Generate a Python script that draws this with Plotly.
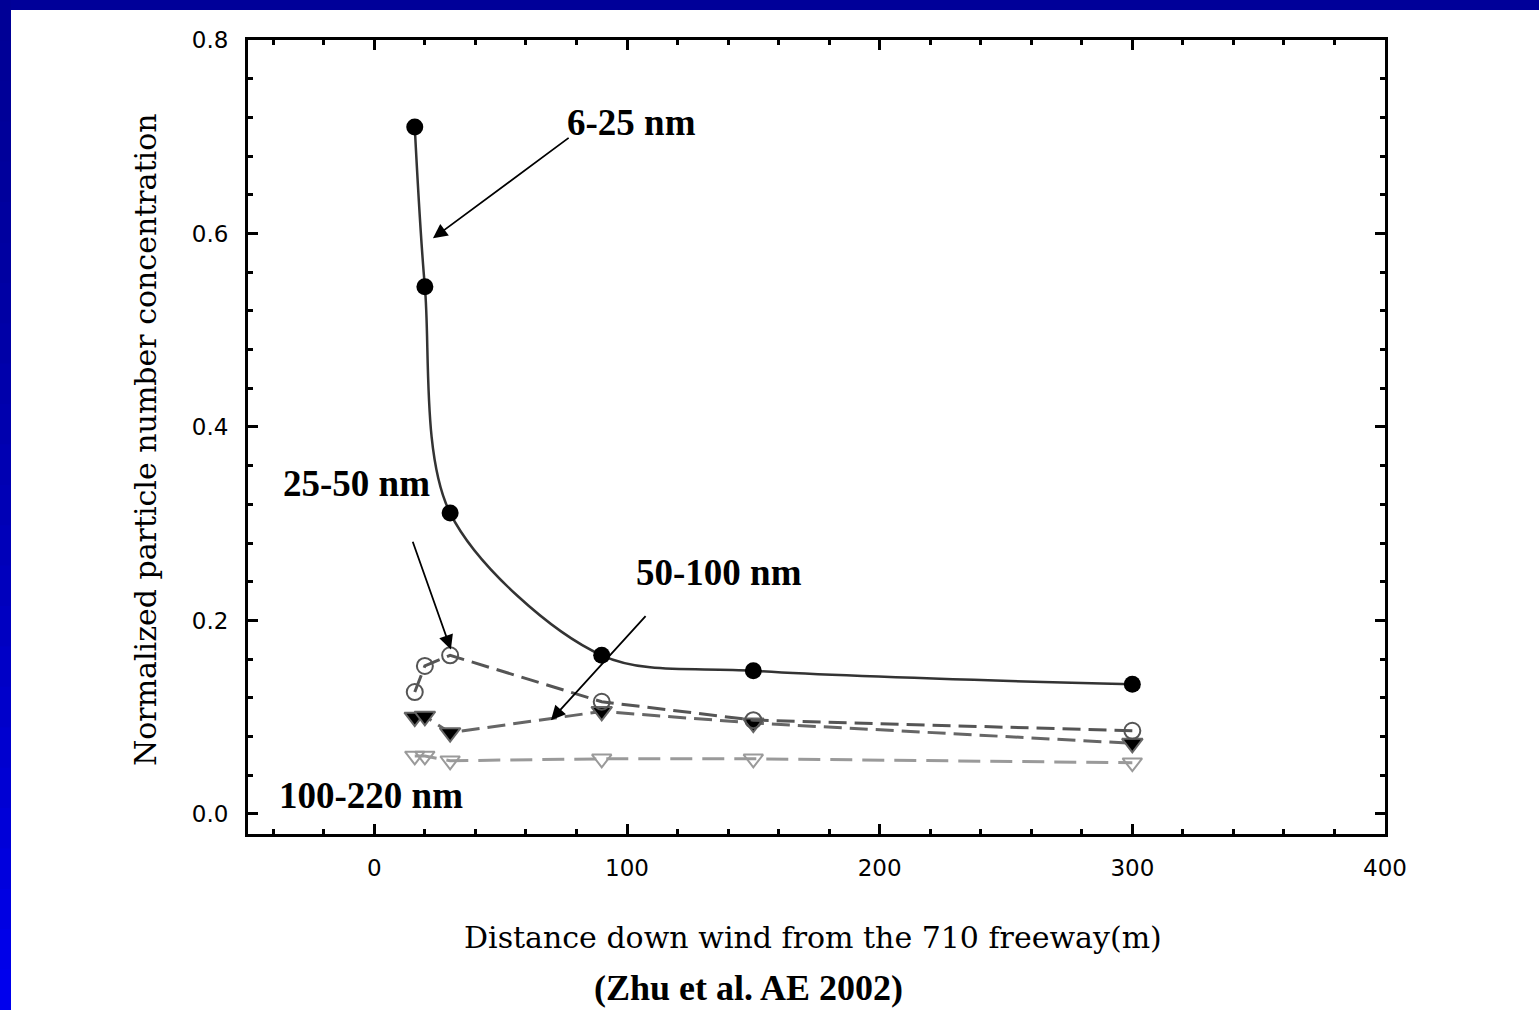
import plotly.graph_objects as go

# ---------------- data ----------------
dist = [16, 20, 30, 90, 150, 300]
nm_6_25 = [0.710, 0.545, 0.311, 0.164, 0.148, 0.134]
nm_25_50 = [0.126, 0.153, 0.164, 0.116, 0.097, 0.086]
nm_50_100 = [0.100, 0.101, 0.084, 0.106, 0.094, 0.073]
nm_100_220 = [0.060, 0.060, 0.055, 0.057, 0.057, 0.053]

x_ticks = [0, 100, 200, 300, 400]
y_ticks = [0.0, 0.2, 0.4, 0.6, 0.8]
y_ticklabels = ["0.0", "0.2", "0.4", "0.6", "0.8"]

W, H = 1539, 1010
L, R, T, B = 248, 154, 40, 176
PW, PH = W - L - R, H - T - B

fig = go.Figure()

fig.add_trace(go.Scatter(
    x=dist, y=nm_100_220, mode="lines+markers", name="100-220 nm",
    line=dict(color="#9a9a9a", width=3, dash="22px,10px"),
    marker=dict(symbol="triangle-down-open", size=17, color="#9a9a9a",
                line=dict(width=2))))
fig.add_trace(go.Scatter(
    x=dist, y=nm_50_100, mode="lines+markers", name="50-100 nm",
    line=dict(color="#666666", width=3, dash="18px,8px"),
    marker=dict(symbol="triangle-down", size=18, color="black",
                line=dict(width=2, color="#666666"))))
fig.add_trace(go.Scatter(
    x=dist, y=nm_25_50, mode="lines+markers", name="25-50 nm",
    line=dict(color="#555555", width=3, dash="18px,8px"),
    marker=dict(symbol="circle-open", size=16, color="#555555",
                line=dict(width=2))))
fig.add_trace(go.Scatter(
    x=dist, y=nm_6_25, mode="lines+markers", name="6-25 nm",
    line=dict(color="#333333", width=2.5, shape="spline", smoothing=0.9),
    marker=dict(symbol="circle", size=17, color="black")))

lab_font = dict(family="Liberation Serif", size=37, color="black")
labels = [
    ("<b>6-25 nm</b>", 101.9, 0.715),
    ("<b>25-50 nm</b>", -7.2, 0.342),
    ("<b>50-100 nm</b>", 136.3, 0.250),
    ("<b>100-220 nm</b>", -1.3, 0.0196),
]
for txt, lx, ly in labels:
    fig.add_annotation(x=lx, y=ly, text=txt, showarrow=False, font=lab_font,
                       xanchor="center", yanchor="middle")

arrows = [
    # head(x,y), tail(x,y)
    (23.2, 0.595, 77.5, 0.700),
    (30.3, 0.170, 15.0, 0.283),
    (69.9, 0.097, 107.9, 0.206),
]
for hx, hy, tx, ty in arrows:
    fig.add_annotation(x=hx, y=hy, ax=tx, ay=ty, axref="x", ayref="y",
                       text="", showarrow=True, arrowhead=2, arrowsize=1.6,
                       arrowwidth=1.8, arrowcolor="black")

title_font = dict(family="DejaVu Serif", size=30, color="black")
fig.add_annotation(xref="paper", yref="paper", x=(813 - L) / PW, y=(H - B - 937) / PH,
                   text="Distance down wind from the 710 freeway(m)",
                   showarrow=False, font=title_font, xanchor="center", yanchor="middle")
fig.add_annotation(xref="paper", yref="paper", x=(145 - L) / PW, y=(H - B - 440) / PH,
                   text="Normalized particle number concentration", textangle=-90,
                   showarrow=False, font=title_font, xanchor="center", yanchor="middle")
fig.add_annotation(xref="paper", yref="paper", x=(748 - L) / PW, y=(H - B - 988) / PH,
                   text="<b>(Zhu et al. AE 2002)</b>", showarrow=False,
                   font=dict(family="Liberation Serif", size=36, color="black"),
                   xanchor="center", yanchor="middle")

# blue slide frame (top strip and left gradient strip)
def px2paper_x(p):
    return (p - L) / PW

def px2paper_y(p):
    return (H - B - p) / PH

fig.add_shape(type="rect", xref="paper", yref="paper", layer="above",
              x0=px2paper_x(0), x1=px2paper_x(W), y0=px2paper_y(0), y1=px2paper_y(10),
              fillcolor="#000099", line=dict(width=0))
nseg = 25
for i in range(nseg):
    y0 = i * H / nseg
    y1 = (i + 1) * H / nseg + 1
    b = int(150 + (240 - 150) * ((i + 0.5) / nseg) ** 1.5)
    fig.add_shape(type="rect", xref="paper", yref="paper", layer="above",
                  x0=px2paper_x(0), x1=px2paper_x(11), y0=px2paper_y(max(y0, 0)),
                  y1=px2paper_y(min(y1, H)),
                  fillcolor=f"rgb(0,0,{b})", line=dict(width=0))

tick_font = dict(family="DejaVu Sans", size=23, color="black")
fig.update_xaxes(range=[-50, 400], tickvals=x_ticks, ticktext=[str(v) for v in x_ticks],
                 ticks="inside", ticklen=10, tickwidth=3, tickcolor="black",
                 minor=dict(dtick=20, tick0=0, ticks="inside", ticklen=5, tickwidth=3,
                            tickcolor="black", showgrid=False),
                 showline=True, linewidth=3, linecolor="black", mirror="ticks",
                 showgrid=False, zeroline=False, tickfont=tick_font,
                 ticklabelstandoff=11)
fig.update_yaxes(range=[-0.0207, 0.8], tickvals=y_ticks, ticktext=y_ticklabels,
                 ticks="inside", ticklen=10, tickwidth=3, tickcolor="black",
                 minor=dict(dtick=0.04, tick0=0, ticks="inside", ticklen=5, tickwidth=3,
                            tickcolor="black", showgrid=False),
                 showline=True, linewidth=3, linecolor="black", mirror="ticks",
                 showgrid=False, zeroline=False, tickfont=tick_font,
                 ticklabelstandoff=12)

fig.update_layout(width=W, height=H, margin=dict(l=L, r=R, t=T, b=B),
                  paper_bgcolor="white", plot_bgcolor="white", showlegend=False)

fig.write_html("out.html")
